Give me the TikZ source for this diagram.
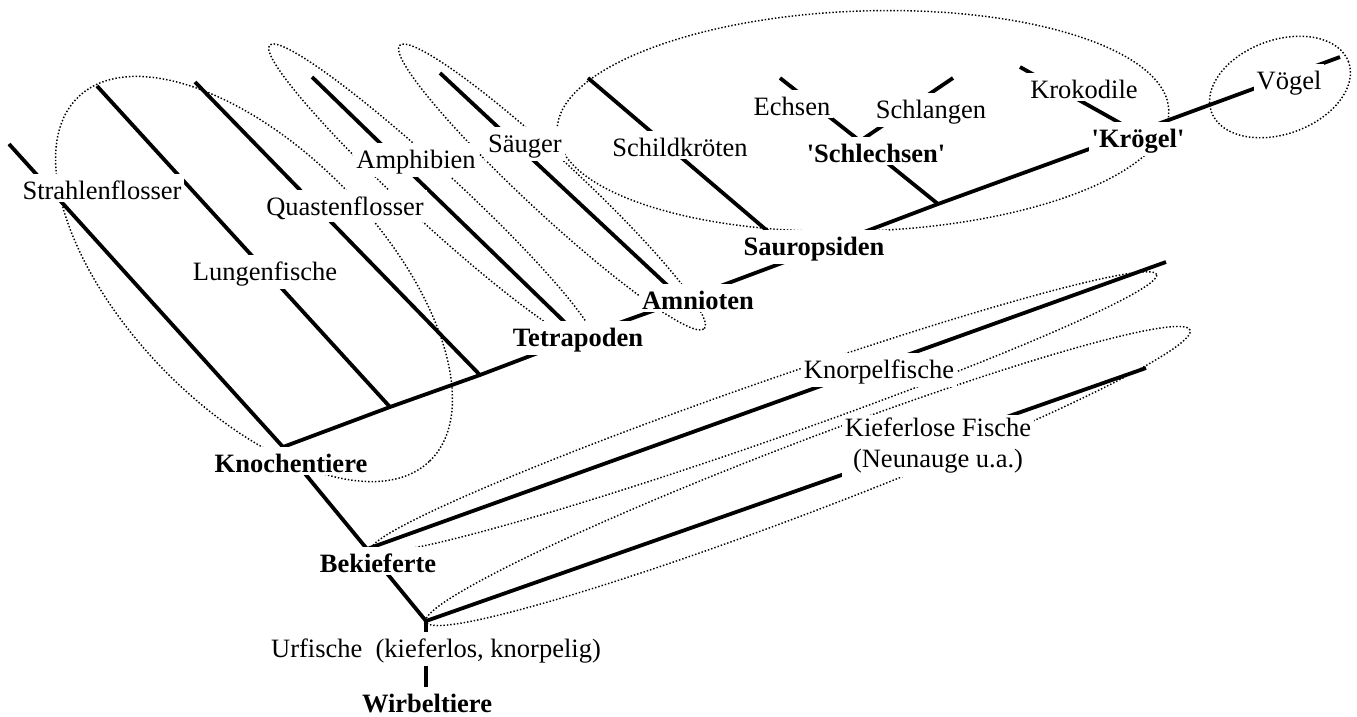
\documentclass[tikz,border=0pt]{standalone}
\usepackage{fontspec}
\setmainfont{Liberation Serif}
\begin{document}
\begin{tikzpicture}[x=1pt,y=-1pt,
  branch/.style={line width=3.8pt},
  trunk/.style={line width=4.6pt},
  grp/.style={line width=1.45pt, dash pattern=on 1.45pt off 1.95pt},
  lbl/.style={fill=white, inner sep=3pt, anchor=base,
    font=\fontsize{26.5}{31}\selectfont,
    execute at begin node={\rule{0pt}{22pt}}},
  blbl/.style={lbl, font=\fontsize{26.5}{31}\selectfont\bfseries}]
\useasboundingbox (0,0) rectangle (1357,716);

% junctions on the tree
\coordinate (K)    at (283,447);
\coordinate (B)    at (367,549);
\coordinate (U)    at (426,621);
\coordinate (W)    at (426,700);
\coordinate (jL)   at (390,407);
\coordinate (jQ)   at (480,375);
\coordinate (jT)   at (580,337);
\coordinate (jA)   at (683,300);
\coordinate (jS)   at (798,257);
\coordinate (jSch) at (938,204);
\coordinate (jKr)  at (1136,132);
\coordinate (apex) at (860,141);
% branch tips
\coordinate (tStr)  at (9,144);
\coordinate (tLun)  at (97,86);
\coordinate (tQua)  at (195,82);
\coordinate (tAmp)  at (312,77);
\coordinate (tSae)  at (440,73);
\coordinate (tSchi) at (588,78);
\coordinate (tEch)  at (780,78);
\coordinate (tSchl) at (953,78);
\coordinate (tKro)  at (1020,67);
\coordinate (tVoe)  at (1340,57);
\coordinate (tKno)  at (1166,262);
\coordinate (tKie)  at (1146,368);

% dotted group outlines
\draw[grp, rotate around={-46:(254,279)}]  (254,279)  ellipse [x radius=253pt, y radius=128pt];
\draw[grp, rotate around={-42.7:(432,195)}] (432,195) ellipse [x radius=221pt, y radius=26pt];
\draw[grp, rotate around={-42.9:(552,187)}] (552,187) ellipse [x radius=208pt, y radius=27pt];
\draw[grp, rotate around={2:(863,121)}]     (863,121) ellipse [x radius=306pt, y radius=110pt];
\draw[grp, rotate around={20:(1280,87)}]    (1280,87) ellipse [x radius=73pt, y radius=47pt];
\draw[grp, rotate around={19.3:(764,412)}]  (764,412) ellipse [x radius=416pt, y radius=29pt];
\draw[grp, rotate around={20.9:(808,476)}]  (808,476) ellipse [x radius=409pt, y radius=35pt];

% tree
\draw[trunk] (W) -- (U);
\draw[branch] (U) -- (B) -- (K);
\draw[branch] (K) -- (jL) -- (jQ) -- (jT) -- (jA) -- (jS) -- (jSch) -- (jKr) -- (tVoe);
\draw[branch] (K) -- (tStr);
\draw[branch] (jL) -- (tLun);
\draw[branch] (jQ) -- (tQua);
\draw[branch] (jT) -- (tAmp);
\draw[branch] (jA) -- (tSae);
\draw[branch] (jS) -- (tSchi);
\draw[branch] (jSch) -- (apex);
\draw[branch] (apex) -- (tEch);
\draw[branch] (apex) -- (tSchl);
\draw[branch] (jKr) -- (tKro);
\draw[branch] (B) -- (tKno);
\draw[branch] (U) -- (tKie);

% labels
\node[lbl]  (nStr)  at (102,199)  {Strahlenflosser};
\node[lbl]  (nLun)  at (265,280)  {Lungenfische};
\node[lbl]  (nQua)  at (345,215)  {Quastenflosser};
\node[lbl]  (nAmp)  at (416,168)  {Amphibien};
\node[lbl]  (nSae)  at (525,152)  {Säuger};
\node[lbl]  (nSchi) at (680,156)  {Schildkröten};
\node[lbl]  (nEch)  at (792,115)  {Echsen};
\node[lbl]  (nSchl) at (931,118)  {Schlangen};
\node[blbl] (nSle)  at (876,162)  {\textquotesingle Schlechsen\textquotesingle};
\node[lbl]  (nKro)  at (1084,98)  {Krokodile};
\node[blbl] (nKrg)  at (1138,147) {\textquotesingle Krögel\textquotesingle};
\node[lbl]  (nVoe)  at (1289,89)  {Vögel};
\node[blbl] (nSau)  at (814,255)  {Sauropsiden};
\node[blbl] (nAmn)  at (698,309)  {Amnioten};
\node[blbl] (nTet)  at (578,346)  {Tetrapoden};
\node[blbl] (nKnt)  at (291,472)  {Knochentiere};
\node[blbl] (nBek)  at (378,572)  {Bekieferte};
\node[lbl]  (nKno)  at (879,378)  {Knorpelfische};
\node[lbl, anchor=north, align=center] (nKie) at (938,415) {Kieferlose Fische\\(Neunauge u.a.)};
\node[lbl]  (nUrf)  at (436,657)  {Urfische\ \ (kieferlos, knorpelig)};
\node[blbl] (nWir)  at (427,712)  {Wirbeltiere};
\end{tikzpicture}
\end{document}
